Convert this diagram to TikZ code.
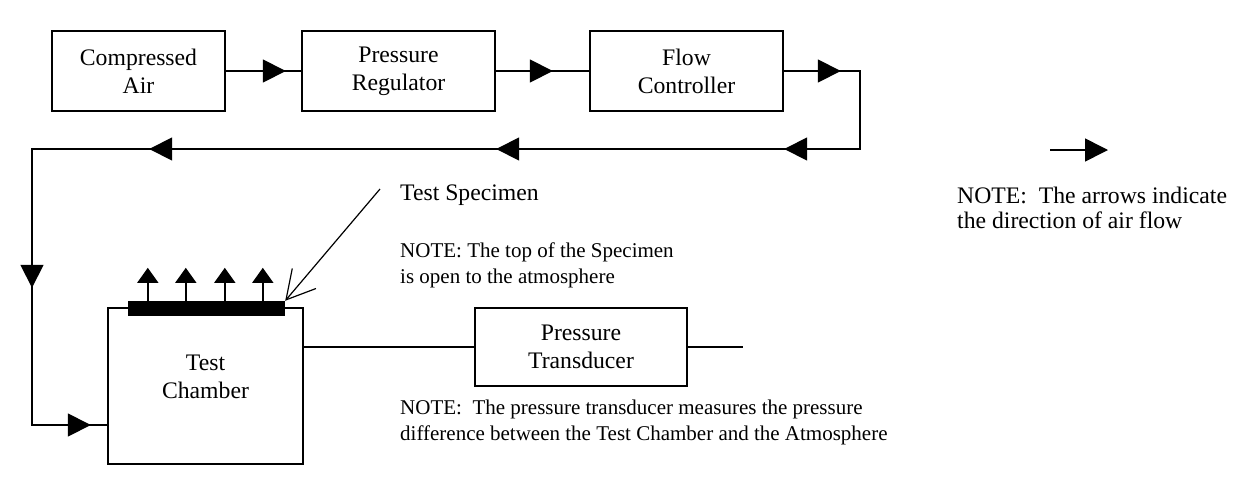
\documentclass[tikz,border=0pt]{standalone}
\usepackage{fontspec}
\setmainfont{Liberation Serif}
\usetikzlibrary{arrows.meta,decorations.markings}

\newcommand{\boxfont}{\fontsize{23.7}{28}\selectfont}
\newcommand{\notefont}{\fontsize{21}{26}\selectfont}
\newcommand{\legendfont}{\fontsize{23.7}{25}\selectfont}

\tikzset{
  box/.style={draw, line width=1.6pt, align=center, font=\boxfont},
  flowline/.style={line width=1.6pt},
  flowmark/.style={postaction={decorate, decoration={markings, mark=at position #1 with {\arrow{>}}}}},
  upflow/.style={line width=1.6pt, -{Triangle[length=15pt,width=21pt]}},
  note/.style={align=left, anchor=west, inner sep=0pt, font=\notefont},
}

\begin{document}
\begin{tikzpicture}[x=1pt, y=-1pt, >={Triangle[length=23pt,width=23pt]}]
    \useasboundingbox (0,0) rectangle (1253,483);
    % supply line
    \node (air) [box, minimum width=173pt, minimum height=80pt] at (138.5,71) {Compressed\\Air};
    \node (reg) [box, minimum width=193pt, minimum height=80pt] at (398.5,71) {Pressure\\Regulator};
    \node (flow) [box, minimum width=193pt, minimum height=80pt] at (686.5,71) {Flow\\Controller};
    \coordinate (fcorner) at (860,71);
    \coordinate (rright) at (860,149);
    \coordinate (rleft) at (32,149);
    \coordinate (rdown) at (32,425);
    % chamber and specimen
    \node (chamber) [box, minimum width=195pt, minimum height=156pt] at (205.5,386) {};
    \node (chamberlabel) [font=\boxfont, align=center] at ([yshift=9.5pt]chamber.center) {Test\\Chamber};
    \node (specimen) [fill=black, minimum width=157pt, minimum height=15pt, inner sep=0pt] at (206.5,308.5) {};
    \node (trans) [box, minimum width=212pt, minimum height=78pt] at (581,347) {Pressure\\Transducer};
    \coordinate (atm) at (743,347);
    \coordinate (specptr) at (380,189);
    % texts
    \node (spectext) [anchor=west, inner sep=0pt, font=\boxfont] at (400,195) {Test Specimen};
    \node (topnote) [note] at (400,265) {NOTE: The top of the Specimen\\is open to the atmosphere};
    \node (transnote) [note] at (400,422) {NOTE:\ \ The pressure transducer measures the pressure\\difference between the Test Chamber and the Atmosphere};
    \node (legnote) [note, font=\legendfont] at (957,207.5) {NOTE:\ \ The arrows indicate\\the direction of air flow};
    \coordinate (legfrom) at (1050,150);
    \coordinate (legto) at (1108,150);
    % connectors
    \draw[flowline, flowmark=60pt] (air) -- (reg);
    \draw[flowline, flowmark=57pt] (reg) -- (flow);
    \draw[flowline, flowmark=57pt, flowmark=230pt, flowmark=518pt, flowmark=865pt, flowmark=1121pt, flowmark=1317pt]
        (flow) -- (fcorner) -- (rright) -- (rleft) -- (rdown) -- (rdown -| chamber.west);
    \foreach \dx in {20,58,97,135}
        \draw[upflow] ([xshift=\dx pt]specimen.north west) -- ++(0,-33);
    \draw[line width=1.2pt, -{Straight Barb[length=28pt,width=31pt]}] (specptr) -- (specimen.north east);
    \draw[flowline] (chamber.east |- trans.west) -- (trans.west);
    \draw[flowline] (trans.east) -- (atm);
    \draw[flowline, ->] (legfrom) -- (legto);
\end{tikzpicture}
\end{document}
